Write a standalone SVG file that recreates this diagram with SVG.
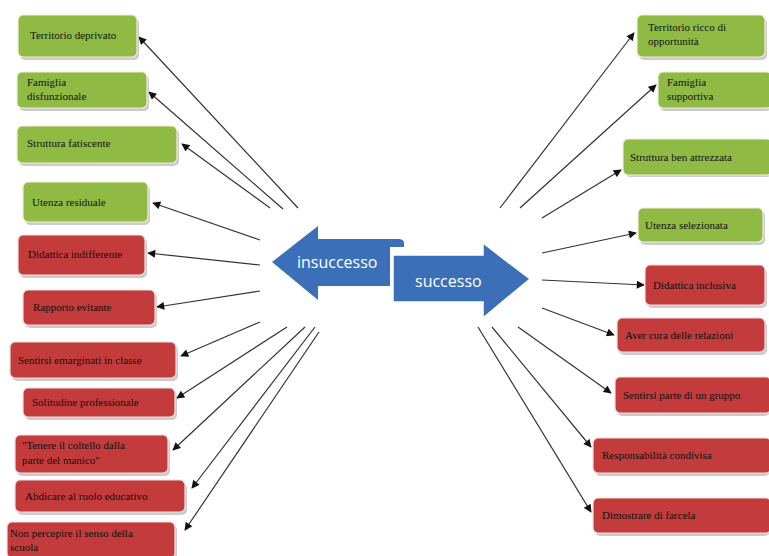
<svg xmlns="http://www.w3.org/2000/svg" width="769" height="556" viewBox="0 0 769 556">
<style>
.g{fill:#8fbb44;stroke:#f3ecd8;stroke-width:1.2}
.r{fill:#c33b3b;stroke:#f3dede;stroke-width:1.2}
.sh{fill:#b5b5b5;opacity:0.7}
.t{font-family:"Liberation Serif","Times New Roman",serif;font-size:11px;fill:#111}
.c{stroke:#333;stroke-width:1.2;fill:none;marker-end:url(#ah)}
.bt{font-family:"Open Sans","Liberation Sans",sans-serif;font-size:16px;fill:#ffffff}
</style>
<defs>
<marker id="ah" viewBox="0 0 10 10" refX="9" refY="5" markerWidth="9" markerHeight="8" markerUnits="userSpaceOnUse" orient="auto">
<path d="M0,0 L10,5 L0,10 Z" fill="#111"/>
</marker>
</defs>
<rect width="769" height="556" fill="#ffffff"/>

<g id="connectors">
<line class="c" x1="298" y1="208" x2="139" y2="37"/>
<line class="c" x1="283" y1="209" x2="149" y2="92"/>
<line class="c" x1="270" y1="208" x2="182" y2="144"/>
<line class="c" x1="260" y1="240" x2="153" y2="203"/>
<line class="c" x1="260" y1="265" x2="148" y2="253"/>
<line class="c" x1="260" y1="291" x2="157" y2="307"/>
<line class="c" x1="260" y1="322" x2="181" y2="356"/>
<line class="c" x1="287" y1="327" x2="177" y2="398"/>
<line class="c" x1="305" y1="327" x2="173" y2="450"/>
<line class="c" x1="315" y1="327" x2="192" y2="488"/>
<line class="c" x1="319" y1="332" x2="185" y2="530"/>
<line class="c" x1="500" y1="208" x2="634" y2="33"/>
<line class="c" x1="520" y1="208" x2="656" y2="85"/>
<line class="c" x1="542" y1="218" x2="621" y2="170"/>
<line class="c" x1="542" y1="253" x2="636" y2="233"/>
<line class="c" x1="542" y1="280" x2="644" y2="285"/>
<line class="c" x1="542" y1="308" x2="614" y2="335"/>
<line class="c" x1="518" y1="327" x2="611" y2="393"/>
<line class="c" x1="492" y1="327" x2="591" y2="447"/>
<line class="c" x1="478" y1="327" x2="591" y2="512"/>
</g>

<g id="arrow-insuccesso">
<path d="M272,262 L318,226 L318,239 L398,239 Q404,239 404,243 L404,247 L390,247 L390,286 L318,286 L318,300 Z" fill="#3b70b8"/>
<text class="bt" x="297" y="268">insuccesso</text>
</g>
<g id="arrow-successo">
<path d="M393,255 L483,255 L483,243 L530,279 L483,318 L483,302 L393,302 Z" fill="#3b70b8" stroke="#ffffff" stroke-width="1.5"/>
<text class="bt" x="415" y="287">successo</text>
</g>

<g id="l1"><rect class="sh" x="20" y="18" width="119" height="42" rx="5"/><rect class="g" x="18" y="15" width="119" height="42" rx="5"/><text class="t" x="30" y="39">Territorio deprivato</text></g>
<g id="l2"><rect class="sh" x="19" y="75" width="130" height="36" rx="5"/><rect class="g" x="17" y="72" width="130" height="36" rx="5"/><text class="t" x="27" y="86">Famiglia</text><text class="t" x="27" y="100">disfunzionale</text></g>
<g id="l3"><rect class="sh" x="19" y="129" width="160" height="37" rx="5"/><rect class="g" x="17" y="126" width="160" height="37" rx="5"/><text class="t" x="27" y="147">Struttura fatiscente</text></g>
<g id="l4"><rect class="sh" x="25" y="185" width="125" height="40" rx="5"/><rect class="g" x="23" y="182" width="125" height="40" rx="5"/><text class="t" x="32" y="206">Utenza residuale</text></g>
<g id="l5"><rect class="sh" x="20" y="238" width="127" height="40" rx="5"/><rect class="r" x="18" y="235" width="127" height="40" rx="5"/><text class="t" x="28" y="258">Didattica indifferente</text></g>
<g id="l6"><rect class="sh" x="25" y="293" width="132" height="35" rx="5"/><rect class="r" x="23" y="290" width="132" height="35" rx="5"/><text class="t" x="33" y="311">Rapporto evitante</text></g>
<g id="l7"><rect class="sh" x="12" y="345" width="166" height="36" rx="5"/><rect class="r" x="10" y="342" width="166" height="36" rx="5"/><text class="t" x="18" y="364">Sentirsi emarginati in classe</text></g>
<g id="l8"><rect class="sh" x="25" y="391" width="152" height="29" rx="5"/><rect class="r" x="23" y="388" width="152" height="29" rx="5"/><text class="t" x="32" y="406">Solitudine professionale</text></g>
<g id="l9"><rect class="sh" x="17" y="438" width="153" height="38" rx="5"/><rect class="r" x="15" y="435" width="153" height="38" rx="5"/><text class="t" x="22" y="449">"Tenere il coltello dalla</text><text class="t" x="22" y="464">parte del manico"</text></g>
<g id="l10"><rect class="sh" x="17" y="483" width="170" height="32" rx="5"/><rect class="r" x="15" y="480" width="170" height="32" rx="5"/><text class="t" x="25" y="500">Abdicare al ruolo educativo</text></g>
<g id="l11"><rect class="sh" x="9" y="525" width="168" height="36" rx="5"/><rect class="r" x="7" y="522" width="168" height="36" rx="5"/><text class="t" x="10" y="537">Non percepire il senso della</text><text class="t" x="10" y="551">scuola</text></g>

<g id="r1"><rect class="sh" x="639" y="18" width="128" height="42" rx="5"/><rect class="g" x="637" y="15" width="128" height="42" rx="5"/><text class="t" x="648" y="31">Territorio ricco di</text><text class="t" x="648" y="45">opportunità</text></g>
<g id="r2"><rect class="sh" x="660" y="75" width="112" height="36" rx="5"/><rect class="g" x="658" y="72" width="114" height="36" rx="5"/><text class="t" x="667" y="86">Famiglia</text><text class="t" x="667" y="100">supportiva</text></g>
<g id="r3"><rect class="sh" x="625" y="142" width="147" height="35" rx="5"/><rect class="g" x="623" y="139" width="149" height="36" rx="5"/><text class="t" x="630" y="161">Struttura ben attrezzata</text></g>
<g id="r4"><rect class="sh" x="640" y="211" width="125" height="34" rx="5"/><rect class="g" x="638" y="208" width="125" height="34" rx="5"/><text class="t" x="645" y="229">Utenza selezionata</text></g>
<g id="r5"><rect class="sh" x="647" y="268" width="120" height="40" rx="5"/><rect class="r" x="645" y="265" width="120" height="40" rx="5"/><text class="t" x="653" y="289">Didattica inclusiva</text></g>
<g id="r6"><rect class="sh" x="619" y="321" width="148" height="34" rx="5"/><rect class="r" x="617" y="318" width="148" height="34" rx="5"/><text class="t" x="625" y="339">Aver cura delle relazioni</text></g>
<g id="r7"><rect class="sh" x="617" y="380" width="153" height="36" rx="5"/><rect class="r" x="615" y="377" width="156" height="36" rx="5"/><text class="t" x="623" y="399">Sentirsi parte di un gruppo</text></g>
<g id="r8"><rect class="sh" x="595" y="441" width="175" height="35" rx="5"/><rect class="r" x="593" y="438" width="178" height="35" rx="5"/><text class="t" x="602" y="459">Responsabilità condivisa</text></g>
<g id="r9"><rect class="sh" x="595" y="501" width="175" height="35" rx="5"/><rect class="r" x="593" y="498" width="178" height="35" rx="5"/><text class="t" x="602" y="519">Dimostrare di farcela</text></g>
</svg>
